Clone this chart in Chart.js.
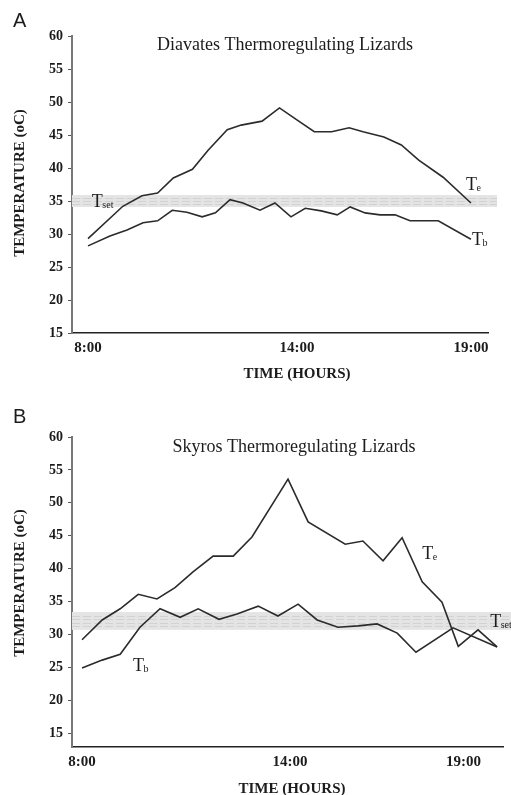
<!DOCTYPE html>
<html><head><meta charset="utf-8">
<script src="https://cdn.jsdelivr.net/npm/chart.js@4.4.1/dist/chart.umd.min.js"></script>
<style>
html,body{margin:0;padding:0;background:#fff;width:511px;height:795px;overflow:hidden}
canvas{display:block;position:absolute;left:0}
#ca{top:0}#cb{top:397px}
</style></head>
<body>
<canvas id="ca" width="511" height="397"></canvas>
<canvas id="cb" width="511" height="398"></canvas>
<script>
// ---- tick labels ----
const xTickValues = [8, 14, 19];
const xTickLabels = ['8:00', '14:00', '19:00'];
const yTickValues = [15, 20, 25, 30, 35, 40, 45, 50, 55, 60];

// ---- Panel A: Diavates ----
const aTeHours = [8.0, 9.0, 9.55, 10.0, 10.45, 11.0, 11.45, 12.0, 12.4, 13.0, 13.5, 14.0, 14.5, 15.0, 15.5, 15.9, 16.5, 17.0, 17.5, 18.2, 19.0];
const aTeTemps = [29.3, 34.2, 35.8, 36.2, 38.5, 39.8, 42.7, 45.8, 46.5, 47.1, 49.1, 47.3, 45.5, 45.5, 46.1, 45.5, 44.7, 43.5, 41.2, 38.6, 34.7];
const aTbHours = [8.0, 8.63, 9.12, 9.58, 10.0, 10.42, 10.84, 11.28, 11.66, 12.08, 12.45, 12.94, 13.37, 13.83, 14.24, 14.7, 15.16, 15.53, 15.96, 16.39, 16.82, 17.25, 18.06, 19.0];
const aTbTemps = [28.2, 29.7, 30.6, 31.7, 32.0, 33.6, 33.3, 32.6, 33.2, 35.2, 34.7, 33.6, 34.7, 32.6, 33.9, 33.5, 32.9, 34.1, 33.2, 32.9, 32.9, 32.0, 32.0, 29.2];
const aTset = [34.1, 35.9];

// ---- Panel B: Skyros ----
const bTeHours = [8.0, 8.58, 9.1, 9.62, 10.16, 10.68, 11.2, 11.78, 12.36, 12.9, 13.94, 14.52, 15.59, 16.1, 16.68, 17.23, 17.81, 18.38, 18.85, 19.42, 19.97];
const bTeTemps = [29.2, 32.2, 33.9, 36.1, 35.4, 37.1, 39.5, 41.9, 41.9, 44.8, 53.6, 47.1, 43.7, 44.2, 41.2, 44.7, 38.0, 34.9, 28.2, 30.7, 28.1];
const bTbHours = [8.0, 8.58, 9.1, 9.67, 10.25, 10.83, 11.35, 11.95, 12.47, 13.08, 13.65, 14.23, 14.78, 15.38, 15.96, 16.51, 17.09, 17.63, 18.7, 19.97];
const bTbTemps = [24.9, 26.1, 27.0, 31.1, 33.9, 32.6, 33.9, 32.3, 33.1, 34.3, 32.8, 34.6, 32.2, 31.1, 31.3, 31.6, 30.2, 27.3, 31.0, 28.1];
const bTset = [30.7, 33.4];

const SERIF = '"Liberation Serif", "Times New Roman", serif';
const INK = '#1c1c1c';

function pts(hours, temps) { return hours.map((h, i) => ({x: h, y: temps[i]})); }

function subLabel(ctx, x, y, main, sub) {
  ctx.font = '18px ' + SERIF;
  ctx.textAlign = 'left'; ctx.textBaseline = 'alphabetic';
  ctx.fillText(main, x, y);
  const w = ctx.measureText(main).width;
  ctx.font = '10px ' + SERIF;
  ctx.fillText(sub, x + w - 0.5, y + 1);
}

const decor = {
  id: 'decor',
  beforeDatasetsDraw(chart, args, o) {
    const {ctx, scales: {x, y}} = chart;
    const x0 = x.getPixelForValue(o.bandX[0]);
    const x1 = x.getPixelForValue(o.bandX[1]);
    const yt = y.getPixelForValue(o.band[1]);
    const yb = y.getPixelForValue(o.band[0]);
    ctx.save();
    ctx.fillStyle = '#e4e4e4';
    ctx.fillRect(x0, yt, x1 - x0, yb - yt);
    ctx.strokeStyle = '#d2d2d2';
    ctx.lineWidth = 1;
    ctx.setLineDash([8, 3]);
    const n = o.dashLines;
    for (let i = 1; i <= n; i++) {
      const yy = Math.round(yt + (yb - yt) * i / (n + 1)) + 0.5;
      ctx.beginPath(); ctx.moveTo(x0, yy); ctx.lineTo(x1, yy); ctx.stroke();
    }
    ctx.restore();
  },
  afterDraw(chart, args, o) {
    const {ctx, scales: {x, y}} = chart;
    ctx.save();
    ctx.fillStyle = INK;
    // panel letter
    ctx.font = '20px "Liberation Sans", Arial, sans-serif';
    ctx.textAlign = 'left'; ctx.textBaseline = 'alphabetic';
    ctx.fillText(o.letter, o.letterPos[0], o.letterPos[1]);
    // chart title
    ctx.font = '18px ' + SERIF;
    ctx.textAlign = 'center';
    ctx.fillText(o.title, o.titlePos[0], o.titlePos[1]);
    // x-axis title
    ctx.font = 'bold 15px ' + SERIF;
    ctx.fillText('TIME (HOURS)', o.xTitlePos[0], o.xTitlePos[1]);
    // y-axis title
    ctx.save();
    ctx.translate(o.yTitlePos[0], o.yTitlePos[1]);
    ctx.rotate(-Math.PI / 2);
    ctx.textBaseline = 'middle';
    ctx.fillText('TEMPERATURE (oC)', 0, 0);
    ctx.restore();
    // series labels
    o.labels.forEach(l => {
      subLabel(ctx, x.getPixelForValue(l.x), y.getPixelForValue(l.y), 'T', l.sub);
    });
    ctx.restore();
  }
};

function makeChart(id, cfg) {
  const lineStyle = {borderColor: '#2b2b2b', borderWidth: 1.6, pointRadius: 0, tension: 0, fill: false};
  return new Chart(document.getElementById(id), {
    type: 'line',
    data: {
      datasets: [
        Object.assign({label: 'Te', data: pts(cfg.teH, cfg.teT)}, lineStyle),
        Object.assign({label: 'Tb', data: pts(cfg.tbH, cfg.tbT)}, lineStyle)
      ]
    },
    options: {
      responsive: false,
      animation: false,
      devicePixelRatio: 1,
      layout: {padding: {top: cfg.padTop, right: cfg.padRight, left: 0, bottom: 0}},
      plugins: {
        legend: {display: false},
        tooltip: {enabled: false},
        decor: cfg.decor
      },
      scales: {
        x: {
          type: 'linear',
          min: cfg.xmin, max: cfg.xmax,
          afterBuildTicks: s => { s.ticks = xTickValues.map(v => ({value: v})); },
          afterFit: s => { s.height = cfg.xAxisH; },
          ticks: {
            autoSkip: false, maxRotation: 0, padding: 6, color: INK,
            font: {family: SERIF, size: 15, weight: 'bold'},
            callback: v => xTickLabels[xTickValues.indexOf(v)]
          },
          grid: {display: false, drawTicks: false},
          border: {display: true, color: '#222', width: 1.6}
        },
        y: {
          type: 'linear',
          min: cfg.ymin, max: 60,
          afterBuildTicks: s => { s.ticks = yTickValues.map(v => ({value: v})); },
          afterFit: s => { s.width = 72; },
          ticks: {
            autoSkip: false, padding: 5, color: INK,
            font: {family: SERIF, size: 14, weight: 'bold'}
          },
          grid: {display: true, drawOnChartArea: false, drawTicks: true, tickLength: 4, color: '#555', lineWidth: 1},
          border: {display: true, color: '#777', width: 2}
        }
      }
    },
    plugins: [decor]
  });
}

makeChart('ca', {
  teH: aTeHours, teT: aTeTemps, tbH: aTbHours, tbT: aTbTemps,
  xmin: 7.54, xmax: 19.49, ymin: 15,
  padTop: 36, padRight: 23, xAxisH: 64,
  decor: {
    band: aTset, bandX: [7.54, 19.75], dashLines: 3,
    letter: 'A', letterPos: [13, 27],
    title: 'Diavates Thermoregulating Lizards', titlePos: [285, 50],
    xTitlePos: [297, 378], yTitlePos: [20, 183],
    labels: [
      {x: 18.86, y: 36.7, sub: 'e'},
      {x: 19.03, y: 28.3, sub: 'b'},
      {x: 8.11, y: 34.1, sub: 'set'}
    ]
  }
});

makeChart('cb', {
  teH: bTeHours, teT: bTeTemps, tbH: bTbHours, tbT: bTbTemps,
  xmin: 7.71, xmax: 20.14, ymin: 12.9,
  padTop: 40, padRight: 8, xAxisH: 48,
  decor: {
    band: bTset, bandX: [7.71, 20.4], dashLines: 4,
    letter: 'B', letterPos: [13, 26],
    title: 'Skyros Thermoregulating Lizards', titlePos: [294, 55],
    xTitlePos: [292, 396], yTitlePos: [20, 186],
    labels: [
      {x: 17.81, y: 41.5, sub: 'e'},
      {x: 9.47, y: 24.4, sub: 'b'},
      {x: 19.77, y: 31.1, sub: 'set'}
    ]
  }
});
</script>
</body></html>
